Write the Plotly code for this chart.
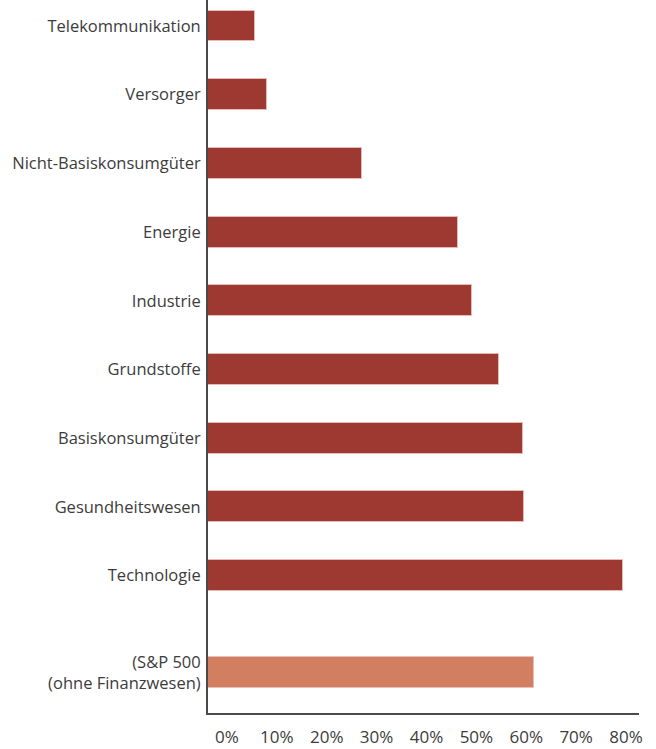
import plotly.graph_objects as go

# ---- data ----
sectors = [
    "Telekommunikation",
    "Versorger",
    "Nicht-Basiskonsumgüter",
    "Energie",
    "Industrie",
    "Grundstoffe",
    "Basiskonsumgüter",
    "Gesundheitswesen",
    "Technologie",
]
sector_values = [5.7, 8.0, 27.1, 46.3, 49.1, 54.5, 59.4, 59.6, 79.3]

benchmark_label = "(S&P 500<br>(ohne Finanzwesen)"
benchmark_value = 61.6

x_tick_values = [0, 10, 20, 30, 40, 50, 60, 70, 80]
x_tick_labels = ["0%", "10%", "20%", "30%", "40%", "50%", "60%", "70%", "80%"]

# ---- layout constants ----
AXIS_MIN = -3.8          # value axis starts a bit left of 0 (axis line)
AXIS_MAX = 82.6
GROUP_GAP = 1.41         # extra spacing before the benchmark bar
BAR_WIDTH = 0.45
SECTOR_COLOR = "#9E3931"
BENCH_COLOR = "#D27F61"
EDGE_COLOR = "rgba(235,190,185,0.9)"
TEXT_COLOR = "#3c3c3c"
AXIS_COLOR = "#4a4a4a"
FONT = "Open Sans"

sector_pos = list(range(len(sectors)))
bench_pos = sector_pos[-1] + GROUP_GAP

fig = go.Figure()
fig.add_trace(go.Bar(
    orientation="h",
    y=sector_pos,
    x=[v - AXIS_MIN for v in sector_values],
    base=AXIS_MIN,
    width=BAR_WIDTH,
    marker=dict(color=SECTOR_COLOR, line=dict(color=EDGE_COLOR, width=1)),
    customdata=sector_values,
    hovertemplate="%{customdata}%<extra></extra>",
    showlegend=False,
))
fig.add_trace(go.Bar(
    orientation="h",
    y=[bench_pos],
    x=[benchmark_value - AXIS_MIN],
    base=AXIS_MIN,
    width=BAR_WIDTH,
    marker=dict(color=BENCH_COLOR, line=dict(color=EDGE_COLOR, width=1)),
    customdata=[benchmark_value],
    hovertemplate="%{customdata}%<extra></extra>",
    showlegend=False,
))

fig.update_layout(
    width=656,
    height=749,
    margin=dict(l=208, r=17, t=0, b=36),
    paper_bgcolor="white",
    plot_bgcolor="white",
    font=dict(family=FONT, color=TEXT_COLOR, size=16),
    bargap=0,
)
fig.update_yaxes(
    tickvals=sector_pos + [bench_pos],
    ticktext=sectors + [benchmark_label],
    range=[10.0, -0.378],
    showline=True,
    linecolor=AXIS_COLOR,
    linewidth=2,
    showgrid=False,
    zeroline=False,
    ticks="",
    tickfont=dict(size=16.5, family=FONT, color=TEXT_COLOR),
    ticklabelstandoff=2,
    automargin=False,
)
fig.update_xaxes(
    tickvals=x_tick_values,
    ticktext=x_tick_labels,
    range=[AXIS_MIN, AXIS_MAX],
    showline=True,
    linecolor=AXIS_COLOR,
    linewidth=2,
    showgrid=False,
    zeroline=False,
    ticks="",
    tickfont=dict(size=17, family=FONT, color=TEXT_COLOR),
    ticklabelstandoff=8,
    automargin=False,
)

fig.write_html(
    "out.html",
    config={"displayModeBar": False},
    post_script="document.body.style.margin='0';document.body.style.overflow='hidden';",
)
